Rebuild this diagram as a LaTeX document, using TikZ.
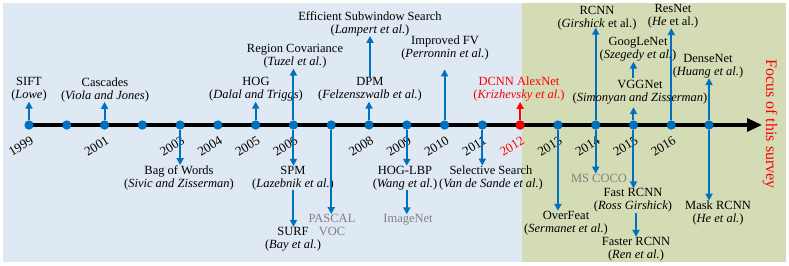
\documentclass[tikz,border=0pt]{standalone}
\usepackage{fontspec}
\setmainfont{Liberation Serif}
\usetikzlibrary{arrows.meta}
\definecolor{tlblue}{RGB}{0,112,192}
\definecolor{bgleft}{RGB}{222,233,243}
\definecolor{bgright}{RGB}{212,220,181}
\definecolor{dsgray}{RGB}{128,128,128}
\tikzset{
  lbl/.style={align=center, font=\fontsize{12.5}{13}\selectfont, inner sep=0pt},
  yr/.style={font=\fontsize{13}{13}\selectfont, inner sep=0pt, anchor=center},
  dotn/.style={circle, fill=tlblue, minimum size=9pt, inner sep=0pt},
  barr/.style={draw=tlblue, line width=2pt, -{Triangle[length=7pt,width=7pt]}},
  rarr/.style={draw=red, line width=2pt, -{Triangle[length=7pt,width=7pt]}},
}
\begin{document}
\begin{tikzpicture}[x=1pt,y=-1pt]
\useasboundingbox (0,0) rectangle (789,265);
\fill[bgleft] (3,3) rectangle (522,262);
\fill[bgright] (522,3) rectangle (786,262);
% dots
\foreach \i in {0,...,18} {
  \node[dotn] (d\i) at ({29+37.78*\i},125) {};
}
\node[dotn, fill=red] (d13) at ({29+37.78*13},125) {};
\coordinate (axend) at (762,125);
\draw[line width=3.3pt, -{Triangle[length=15pt,width=13pt]}] (d0.center) -- (axend);
\foreach \i in {0,...,18} {
  \node[dotn] at (d\i) {};
}
\node[dotn, fill=red] at (d13) {};
% years
\foreach \i/\y in {0/1999,2/2001,4/2003,5/2004,6/2005,7/2006,9/2008,10/2009,11/2010,12/2011,14/2013,15/2014,16/2015,17/2016} {
  \node[yr] (y\i) at ([xshift=-8pt,yshift=-21pt]d\i.center) {\rotatebox{32}{\y}};
}
\node[yr, text=red] (y13) at ([xshift=-8pt,yshift=-21pt]d13.center) {\rotatebox{32}{2012}};
% up labels
\node[lbl] (sift) at (29,89.5) {SIFT\\(\textit{Lowe})};
\draw[barr] (d0) -- (d0 |- sift.south);
\node[lbl] (casc) at (105,89.5) {Cascades\\(\textit{Viola and Jones})};
\draw[barr] (d2) -- (d2 |- casc.south);
\node[lbl] (hog) at (256,89.5) {HOG\\(\textit{Dalal and Triggs})};
\draw[barr] (d6) -- (d6 |- hog.south);
\node[lbl] (rcov) at (295,56.5) {Region Covariance\\(\textit{Tuzel et al.})};
\draw[barr] (d7) -- (d7 |- rcov.south);
\node[lbl] (dpm) at (370,89.5) {DPM\\(\textit{Felzenszwalb et al.})};
\draw[barr] (d9) -- (d9 |- dpm.south);
\node[lbl] (ess) at (370,23.5) {Efficient Subwindow Search\\(\textit{Lampert et al.})};
\draw[barr] (dpm.north) -- (dpm.north |- ess.south);
\node[lbl] (ifv) at (445,48) {Improved FV\\(\textit{Perronnin et al.})};
\draw[barr, shorten >=9pt] (d11) -- (d11 |- ifv.south);
\node[lbl, text=red] (alex) at (519,89.5) {DCNN AlexNet\\(\textit{Krizhevsky et al.})};
\draw[rarr] (d13) -- (d13 |- alex.south);
\node[lbl] (rcnn) at (597,18.5) {RCNN\\(\textit{Girshick} et al.)};
\draw[barr, shorten >=-3pt] (d15) -- (d15 |- rcnn.south);
\node[lbl] (res) at (673,16) {ResNet\\(\textit{He} et al.)};
\draw[barr] (d17) -- (d17 |- res.south);
\node[lbl] (vgg) at (640,92) {VGGNet\\(\textit{Simonyan and Zisserman})};
\draw[barr, shorten >=3pt] (d16) -- (d16 |- vgg.south);
\node[lbl] (goog) at (638,49.5) {GoogLeNet\\(\textit{Szegedy et al.})};
\draw[barr] ([yshift=2pt]d16 |- vgg.north) -- (d16 |- goog.south);
\node[lbl] (dense) at (708,66) {DenseNet\\(\textit{Huang et al.})};
\draw[barr] (d18) -- (d18 |- dense.south);
% down labels
\node[lbl] (bow) at (179,177.5) {Bag of Words\\(\textit{Sivic and Zisserman})};
\draw[barr] (d4) -- (d4 |- bow.north);
\node[lbl] (spm) at (293,178) {SPM\\(\textit{Lazebnik et al.})};
\draw[barr] (d7) -- (d7 |- spm.north);
\node[lbl] (surf) at (293,239) {SURF\\(\textit{Bay et al.})};
\draw[barr] (d7 |- spm.south) -- (d7 |- surf.north);
\node[lbl, text=dsgray] (voc) at (332,225) {PASCAL\\VOC};
\draw[barr] (d8) -- (d8 |- voc.north);
\node[lbl] (hlbp) at (405,178) {HOG-LBP\\(\textit{Wang et al.})};
\draw[barr] (d10) -- (d10 |- hlbp.north);
\node[lbl, text=dsgray] (inet) at (408,220) {ImageNet};
\draw[barr] (d10 |- hlbp.south) -- (d10 |- inet.north);
\node[lbl] (sel) at (491,178) {Selective Search\\(\textit{Van de Sande et al.})};
\draw[barr] (d12) -- (d12 |- sel.north);
\node[lbl] (ovf) at (566,223) {OverFeat\\(\textit{Sermanet et al.})};
\draw[barr] (d14) -- (d14 |- ovf.north);
\node[lbl, text=dsgray] (coco) at (599,178) {MS COCO};
\draw[barr] (d15) -- (d15 |- coco.north);
\node[lbl] (fast) at (633,200.5) {Fast RCNN\\(\textit{Ross Girshick})};
\draw[barr] (d16) -- (d16 |- fast.north);
\node[lbl] (faster) at (636,249) {Faster RCNN\\(\textit{Ren et al.})};
\draw[barr] (faster.north |- fast.south) -- (faster.north);
\node[lbl] (mask) at (718,213) {Mask RCNN\\(\textit{He et al.})};
\draw[barr] (d18) -- (d18 |- mask.north);
% focus
\node[text=red, rotate=-90, inner sep=0pt, font=\fontsize{16}{16}\selectfont] (focus) at (770,124) {Focus of this survey};
\end{tikzpicture}
\end{document}
